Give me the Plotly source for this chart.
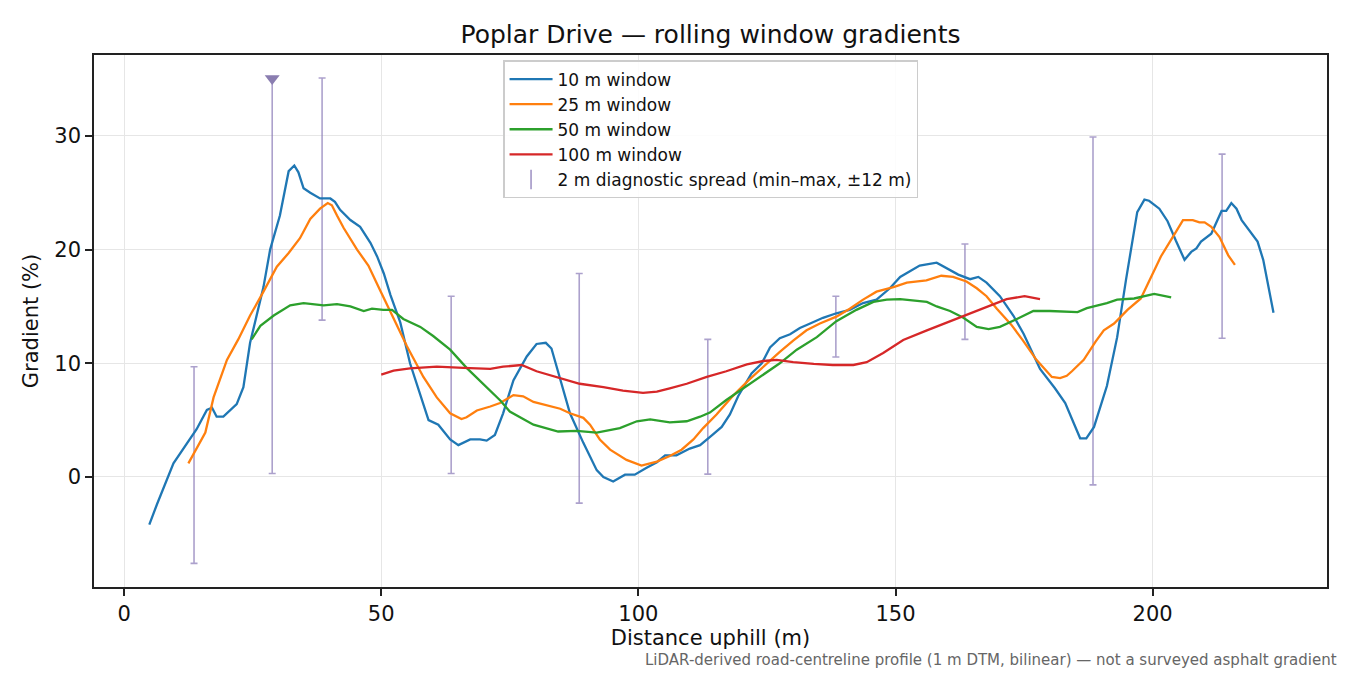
import plotly.graph_objects as go

# 10 m window (distance m, gradient %)
w10_x = [4.9, 6.4, 9.6, 14.1, 16.1, 17.1, 18.0, 19.3, 21.9, 23.2, 24.5, 25.8, 27.1, 28.4,
         30.3, 32.0, 33.1, 33.9, 34.9, 36.2, 38.1, 40.1, 41.0, 42.0, 44.0, 45.9, 47.9, 49.2,
         50.5, 51.8, 53.7, 55.6, 57.5, 59.2, 61.1, 63.4, 65.0, 67.3, 69.2, 70.5, 72.1, 73.7,
         75.7, 78.3, 80.2, 82.0, 83.1, 84.8, 86.7, 89.3, 91.9, 93.2, 95.1, 97.4, 99.3, 101.6,
         103.6, 105.2, 107.4, 110.0, 112.0, 114.4, 116.2, 117.8, 119.4, 122.0, 124.0, 125.6,
         127.5, 129.5, 131.4, 133.4, 135.9, 138.5, 141.1, 143.7, 146.3, 148.9, 150.9, 152.8,
         154.7, 158.0, 159.9, 162.2, 164.5, 166.1, 167.7, 170.3, 172.9, 174.9, 178.1, 181.0,
         183.0, 185.9, 187.1, 188.6, 191.1, 193.1, 194.8, 196.1, 197.0, 198.4, 199.3, 201.3,
         202.9, 204.5, 206.2, 207.5, 208.5, 209.4, 211.4, 213.4, 214.3, 215.3, 216.3, 217.3,
         219.2, 220.4, 221.5, 223.5]
w10_y = [-4.2, -2.4, 1.2, 4.2, 5.9, 6.1, 5.3, 5.3, 6.4, 7.9, 11.8, 14.2, 16.7, 20.0,
         23.0, 26.9, 27.4, 26.8, 25.4, 25.0, 24.5, 24.5, 24.2, 23.5, 22.6, 22.0, 20.6, 19.4,
         17.9, 16.0, 13.6, 10.0, 7.3, 5.0, 4.6, 3.3, 2.8, 3.3, 3.3, 3.2, 3.7, 5.6,
         8.5, 10.6, 11.7, 11.8, 11.3, 8.5, 5.6, 3.0, 0.6, 0.0, -0.4, 0.2, 0.2, 0.8,
         1.3, 1.9, 1.9, 2.5, 2.8, 3.7, 4.4, 5.5, 7.1, 9.1, 10.0, 11.4,
         12.2, 12.55, 13.1, 13.5, 14.0, 14.4, 14.7, 15.3, 15.6, 16.6, 17.6, 18.1,
         18.6, 18.85, 18.4, 17.8, 17.4, 17.6, 17.1, 15.9, 14.2, 12.6, 9.5, 7.8,
         6.5, 3.4, 3.4, 4.4, 8.0, 12.3, 17.3, 21.1, 23.3, 24.4, 24.3, 23.6,
         22.5, 20.8, 19.1, 19.8, 20.1, 20.7, 21.4, 23.4, 23.4, 24.1, 23.6, 22.6,
         21.4, 20.7, 19.1, 14.45]

# 25 m window
w25_x = [12.5, 14.4, 15.8, 17.4, 20.0, 22.2, 24.5, 27.1, 29.7, 32.0, 34.2, 36.2, 38.1, 39.6,
         40.4, 41.4, 42.7, 45.3, 47.5, 49.8, 52.4, 55.0, 58.2, 60.8, 63.4, 64.7, 65.6, 66.6,
         68.6, 71.2, 73.1, 75.7, 77.6, 79.6, 82.2, 84.8, 86.7, 89.3, 90.6, 92.5, 94.5, 97.7,
         100.6, 103.6, 106.1, 108.4, 110.7, 112.6, 115.2, 118.1, 121.4, 124.6, 127.5, 130.1,
         132.7, 135.3, 138.5, 141.1, 143.7, 146.3, 149.6, 152.2, 156.0, 158.9, 161.2, 163.8,
         165.8, 167.7, 169.7, 172.5, 174.8, 177.4, 180.4, 182.0, 183.3, 184.3, 186.6, 188.9,
         190.5, 192.5, 195.1, 197.7, 199.7, 201.6, 203.9, 205.9, 207.8, 209.1, 210.1, 211.4,
         213.0, 214.7, 216.0]
w25_y = [1.2, 2.7, 3.9, 7.0, 10.3, 12.1, 14.2, 16.3, 18.5, 19.7, 21.0, 22.7, 23.6, 24.1,
         23.9, 23.0, 21.9, 20.0, 18.6, 16.4, 14.0, 11.5, 8.8, 7.0, 5.6, 5.3, 5.1, 5.25,
         5.85, 6.2, 6.5, 7.2, 7.1, 6.6, 6.3, 6.0, 5.6, 5.2, 4.6, 3.3, 2.4, 1.5,
         1.0, 1.35, 1.85, 2.4, 3.3, 4.3, 5.5, 7.0, 8.5, 9.85, 11.0, 12.0,
         12.9, 13.5, 14.1, 14.8, 15.6, 16.3, 16.7, 17.1, 17.3, 17.7, 17.6, 17.2,
         16.6, 15.9, 14.8, 13.4, 12.0, 10.3, 8.8, 8.7, 8.9, 9.3, 10.3, 11.9,
         12.9, 13.5, 14.7, 15.7, 17.6, 19.4, 21.1, 22.6, 22.6, 22.4, 22.4, 22.0,
         21.1, 19.5, 18.65]

# 50 m window
w50_x = [24.8, 26.5, 29.1, 32.3, 34.9, 38.8, 41.4, 44.0, 46.6, 48.2, 50.4, 52.1, 54.3, 57.6,
         60.1, 63.4, 66.6, 70.0, 73.2, 75.0, 79.6, 84.4, 88.0, 91.9, 96.4, 99.7, 102.3, 106.1,
         109.4, 112.0, 113.9, 117.1, 120.4, 124.9, 127.5, 130.8, 134.7, 138.5, 142.4, 145.7,
         148.3, 150.9, 154.1, 156.1, 158.0, 160.6, 163.2, 165.8, 168.1, 170.3, 173.6, 176.8,
         180.0, 183.3, 185.4, 187.2, 191.1, 193.1, 196.4, 200.3, 203.6]
w50_y = [12.1, 13.3, 14.2, 15.1, 15.3, 15.1, 15.2, 15.0, 14.6, 14.8, 14.7, 14.7, 13.9, 13.2,
         12.4, 11.2, 9.6, 8.1, 6.7, 5.75, 4.6, 4.0, 4.05, 3.9, 4.3, 4.9, 5.07, 4.8,
         4.9, 5.3, 5.66, 6.77, 7.8, 9.26, 10.0, 11.2, 12.3, 13.7, 14.7, 15.4,
         15.6, 15.65, 15.5, 15.4, 15.0, 14.6, 14.0, 13.2, 13.0, 13.2, 13.9, 14.6,
         14.6, 14.55, 14.5, 14.85, 15.3, 15.6, 15.7, 16.1, 15.8]

# 100 m window
w100_x = [50.0, 52.4, 55.6, 60.8, 66.0, 71.2, 73.7, 77.3, 80.2, 84.1, 88.6, 93.2, 97.0, 100.9,
          103.6, 106.1, 109.4, 113.3, 117.1, 121.1, 124.3, 126.9, 130.1, 134.1, 137.8, 141.8,
          144.4, 147.6, 151.5, 156.1, 160.6, 163.8, 167.7, 171.6, 175.1, 178.1]
w100_y = [9.0, 9.35, 9.55, 9.7, 9.6, 9.5, 9.7, 9.85, 9.3, 8.8, 8.2, 7.9, 7.6, 7.4,
          7.5, 7.8, 8.2, 8.8, 9.3, 9.9, 10.2, 10.3, 10.1, 9.94, 9.85, 9.85,
          10.1, 10.9, 12.05, 12.9, 13.7, 14.25, 15.0, 15.65, 15.9, 15.65]

# 2 m diagnostic spread (min-max over +-12 m)
spread_x = [13.6, 28.8, 38.5, 63.6, 88.5, 113.5, 138.4, 163.5, 188.4, 213.5]
spread_lo = [-7.6, 0.3, 13.8, 0.3, -2.3, 0.25, 10.55, 12.1, -0.7, 12.2]
spread_hi = [9.7, 35.0, 35.1, 15.9, 17.9, 12.1, 15.9, 20.5, 29.9, 28.4]
clipped_x = [28.8]
clipped_y = [35.05]

series = [
    ("10 m window", w10_x, w10_y, "#1f77b4"),
    ("25 m window", w25_x, w25_y, "#ff7f0e"),
    ("50 m window", w50_x, w50_y, "#2ca02c"),
    ("100 m window", w100_x, w100_y, "#d62728"),
]

FONT = "DejaVu Sans"
BAR_COL = "rgba(140,125,185,0.72)"
W, H = 1342, 667  # page body adds an 8 px margin

fig = go.Figure()

# error bars first so the lines sit on top
mid = [(a + b) / 2 for a, b in zip(spread_lo, spread_hi)]
fig.add_trace(go.Scatter(
    x=spread_x, y=mid, mode="markers",
    marker=dict(size=1, opacity=0),
    error_y=dict(type="data", symmetric=False,
                 array=[h - m for h, m in zip(spread_hi, mid)],
                 arrayminus=[m - l for l, m in zip(spread_lo, mid)],
                 color=BAR_COL, thickness=1.6, width=3.5),
    showlegend=False, hoverinfo="skip",
))
fig.add_trace(go.Scatter(
    x=clipped_x, y=clipped_y, mode="markers",
    marker=dict(symbol="triangle-down", size=13, color="#8a7db0"),
    showlegend=False, hoverinfo="skip", cliponaxis=False,
))

for i, (name, xs, ys, col) in enumerate(series):
    fig.add_trace(go.Scatter(
        x=xs, y=ys, mode="lines", name=name,
        line=dict(color=col, width=2.3),
        legendgroup=f"g{i}",
    ))

fig.add_trace(go.Scatter(
    x=[None], y=[None], mode="markers",
    name="2 m diagnostic spread (min\u2013max, \u00b112 m)",
    marker=dict(symbol="line-ns-open", size=14, color=BAR_COL,
                line=dict(color=BAR_COL, width=1.8)),
    legendgroup="g5",
))

axis_common = dict(
    showline=True, mirror=True, linecolor="#222222", linewidth=1.6,
    ticks="outside", ticklen=7, tickwidth=1.6, tickcolor="#222222",
    showgrid=True, gridcolor="#e6e6e6", gridwidth=1.2,
    zeroline=False, tickfont=dict(family=FONT, size=21, color="#111111"),
)

fig.update_xaxes(
    range=[-5.85, 233.9], tickvals=[0, 50, 100, 150, 200],
    title=dict(text="Distance uphill (m)", font=dict(family=FONT, size=21, color="#111111"),
               standoff=5),
    **axis_common,
)
fig.update_yaxes(
    range=[-9.68, 37.12], tickvals=[0, 10, 20, 30],
    title=dict(text="Gradient (%)", font=dict(family=FONT, size=21, color="#111111"),
               standoff=10),
    **axis_common,
)

fig.update_layout(
    width=W, height=H,
    margin=dict(l=86, r=23, t=47, b=88),
    paper_bgcolor="white", plot_bgcolor="white",
    font=dict(family=FONT, color="#111111"),
    title=dict(text="Poplar Drive \u2014 rolling window gradients",
               x=0.5, xref="paper", y=1 - 26 / H, yref="container",
               xanchor="center", yanchor="middle",
               font=dict(family=FONT, size=25, color="#111111")),
    legend=dict(x=0.332, y=0.99, xanchor="left", yanchor="top",
                bgcolor="rgba(255,255,255,0.85)", bordercolor="#cccccc", borderwidth=1.2,
                font=dict(family=FONT, size=17, color="#111111"),
                itemwidth=43, tracegroupgap=0, traceorder="grouped"),
    annotations=[dict(
        text="LiDAR-derived road-centreline profile (1 m DTM, bilinear) \u2014 not a surveyed asphalt gradient",
        xref="paper", yref="paper", x=1.0095, y=-0.1365, xanchor="right", yanchor="middle",
        showarrow=False, font=dict(family=FONT, size=15, color="#666666"),
    )],
)

fig.write_html("out.html")
